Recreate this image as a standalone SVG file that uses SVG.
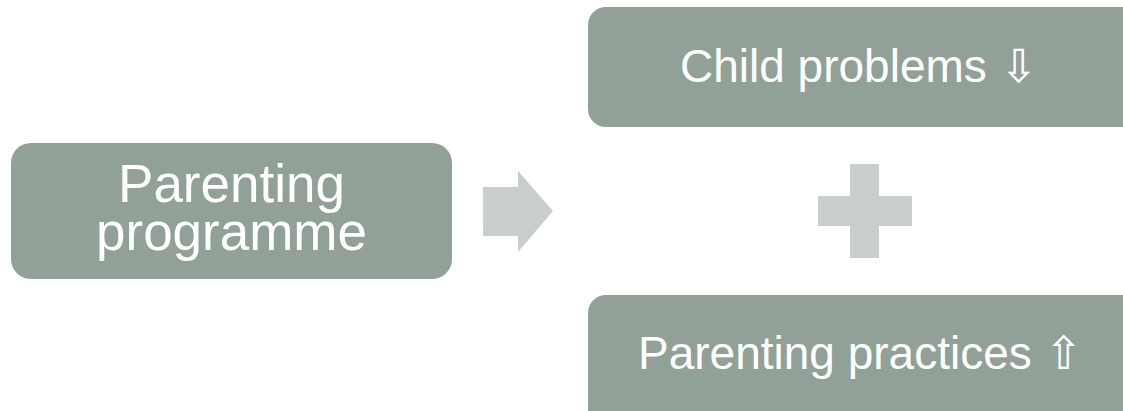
<svg xmlns="http://www.w3.org/2000/svg" width="1123" height="411" viewBox="0 0 1123 411">
<style>
.box{fill:#91A197;}
.conn{fill:#C8CFCA;}
.t{fill:#FFFFFF;font-family:"Liberation Sans","DejaVu Sans",Arial,sans-serif;}
</style>
<rect width="1123" height="411" fill="#FFFFFF"/>
<g id="node-programme">
<rect class="box" x="11" y="143" width="441" height="136" rx="20" ry="20"/>
<text class="t" x="231.5" y="201.5" font-size="53" text-anchor="middle">Parenting</text>
<text class="t" x="231.5" y="249.5" font-size="53" text-anchor="middle">programme</text>
</g>
<g id="node-child">
<rect class="box" x="588" y="7" width="560" height="120" rx="18" ry="18"/>
<text class="t" x="680" y="82" font-size="46">Child problems <tspan font-family="'DejaVu Sans',sans-serif">⇩</tspan></text>
</g>
<g id="node-practices">
<rect class="box" x="588" y="295" width="560" height="140" rx="18" ry="18"/>
<text class="t" x="638" y="369" font-size="46">Parenting practices <tspan font-family="'DejaVu Sans',sans-serif">⇧</tspan></text>
</g>
<g id="connectors">
<polygon class="conn" points="483,187 518,187 518,171 553,211 518,252 518,236 483,236"/>
<polygon class="conn" points="850,164 879,164 879,196 912,196 912,226 879,226 879,258 850,258 850,226 818,226 818,196 850,196"/>
</g>
</svg>
